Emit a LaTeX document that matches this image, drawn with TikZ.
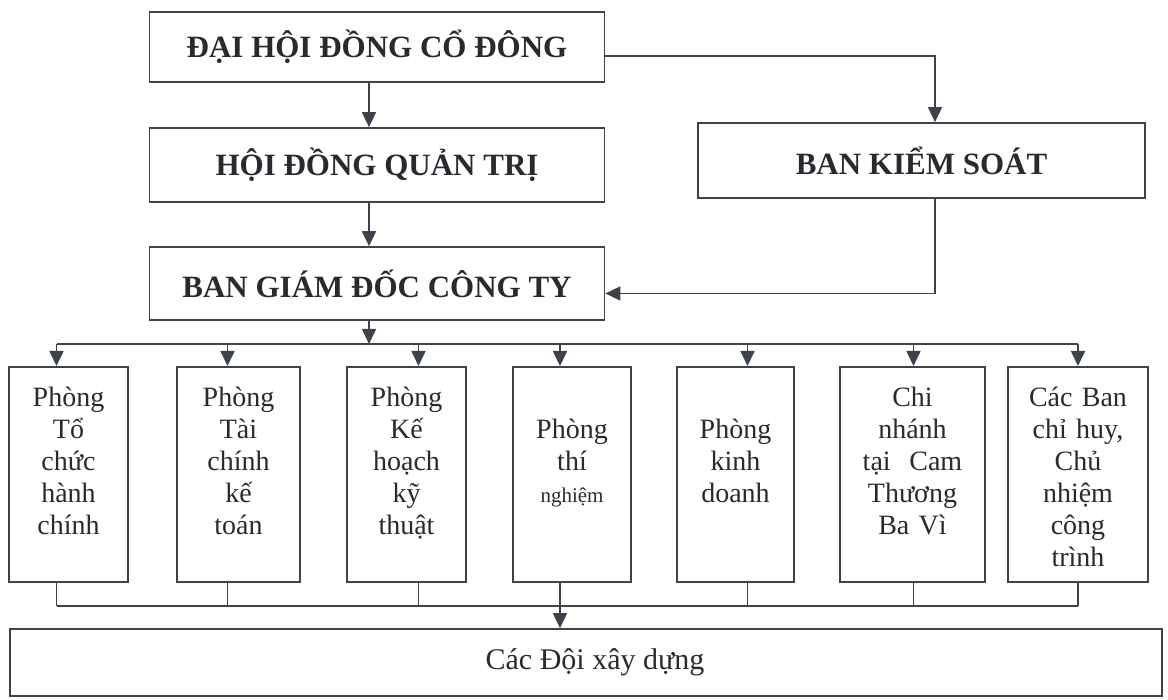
\documentclass[tikz,border=0pt]{standalone}
\usepackage{fontspec}
\setmainfont{Liberation Serif}
\usepackage{xcolor}
\usepackage{tikz}
\usetikzlibrary{arrows.meta, positioning, calc}
\definecolor{ink}{RGB}{62,66,74}
\definecolor{txt}{RGB}{40,42,48}
\newcommand{\hdtitlefont}{\fontsize{31}{36}\selectfont\bfseries}
\newcommand{\phongfont}{\fontsize{28}{32}\selectfont}
\tikzstyle{title} = [rectangle, draw=ink, line width=1.7pt, inner sep=0pt, minimum width=455pt, minimum height=72pt, text=txt, font=\hdtitlefont]
\tikzstyle{line} = [draw=ink, line width=1.7pt]
\tikzstyle{arrow} = [line, ->]
\tikzset{
  dept/.style={rectangle, draw=ink, line width=1.7pt, anchor=north, inner xsep=0pt, inner ysep=5pt,
    text width=#1pt, align=center, text height=35pt, text depth=170pt, text=txt, font=\phongfont},
  deptlow/.style={dept=#1, text height=67pt, text depth=138pt}
}

\begin{document}
\begin{tikzpicture}[x=1pt, y=-1pt, >={Triangle[length=15pt,width=14pt]}]
    \useasboundingbox (0,0) rectangle (1168,700);

    % Top of the company
    \node (dhdcd) [title, minimum height=70pt] at (377,47) {ĐẠI HỘI ĐỒNG CỔ ĐÔNG};
    \node (hdqt) [title, minimum height=74pt] at (377,165) {HỘI ĐỒNG QUẢN TRỊ};
    \node (bks) [title, minimum width=447pt, minimum height=75pt] at (921.5,160.5) {BAN KIỂM SOÁT};
    \node (bgd) [title, minimum height=73pt] at (377,283.5) {BAN GIÁM ĐỐC CÔNG TY};

    % Departments
    \node (p1) [dept=119] at (68.5,366) {Phòng\\Tổ\\chức\\hành\\chính};
    \node (p2) [dept=123] at (238.5,366) {Phòng\\Tài\\chính\\kế\\toán};
    \node (p3) [dept=119] at (406.5,366) {Phòng\\Kế\\hoạch\\kỹ\\thuật};
    \node (p4) [deptlow=118] at (572,366) {Phòng\\thí\\{\fontsize{21}{32}\selectfont nghiệm}};
    \node (p5) [deptlow=117] at (735.5,366) {Phòng\\kinh\\doanh};
    \node (p6) [dept=145] at (912.5,366) {Chi\\nhánh\\tại~ Cam\\Thương\\Ba Vì};
    \node (p7) [dept=140] at (1078,366) {Các Ban\\chỉ huy,\\Chủ\\nhiệm\\công\\trình};

    % Construction teams
    \node (doi) [rectangle, draw=ink, line width=1.7pt, minimum width=1152pt, minimum height=67pt, text=txt, font=\fontsize{30}{34}\selectfont] at (586,662.5) {\hspace{18pt}Các Đội xây dựng};

    % Bus lines and tap points
    \coordinate (spine) at (369,0);
    \coordinate (ksx) at (935,0);
    \coordinate (topbus) at (0,344);
    \coordinate (botbus) at (0,606);
    \foreach \n/\d in {p1/-12, p2/-11, p3/12, p4/-12, p5/12, p6/1, p7/0} {
        \coordinate (\n-top) at ([xshift=\d pt]\n.north);
        \coordinate (\n-bot) at ([xshift=\d pt]\n.south);
    }

    % Arrows - top levels
    \draw [arrow] (dhdcd.south -| spine) -- (hdqt.north -| spine);
    \draw [arrow] ([yshift=-9pt]dhdcd.east) -| (bks.north -| ksx);
    \draw [arrow] (hdqt.south -| spine) -- (bgd.north -| spine);
    \draw [arrow] (bks.south -| ksx) |- ([yshift=-10pt]bgd.east);
    \draw [arrow] (bgd.south -| spine) -- (spine |- topbus);

    % Arrows - to departments
    \draw [line] (p1-top |- topbus) -- (p7-top |- topbus);
    \foreach \n in {p1,p2,p3,p4,p5,p6,p7}
        \draw [arrow] (\n-top |- topbus) -- (\n-top);

    % Lines - departments to teams
    \draw [line] (p1-bot |- botbus) -- (p7-bot |- botbus);
    \foreach \n in {p1,p2,p3,p5,p6,p7}
        \draw [line] (\n-bot) -- (\n-bot |- botbus);
    \draw [arrow] (p4-bot) -- (doi.north -| p4-bot);

\end{tikzpicture}
\end{document}
